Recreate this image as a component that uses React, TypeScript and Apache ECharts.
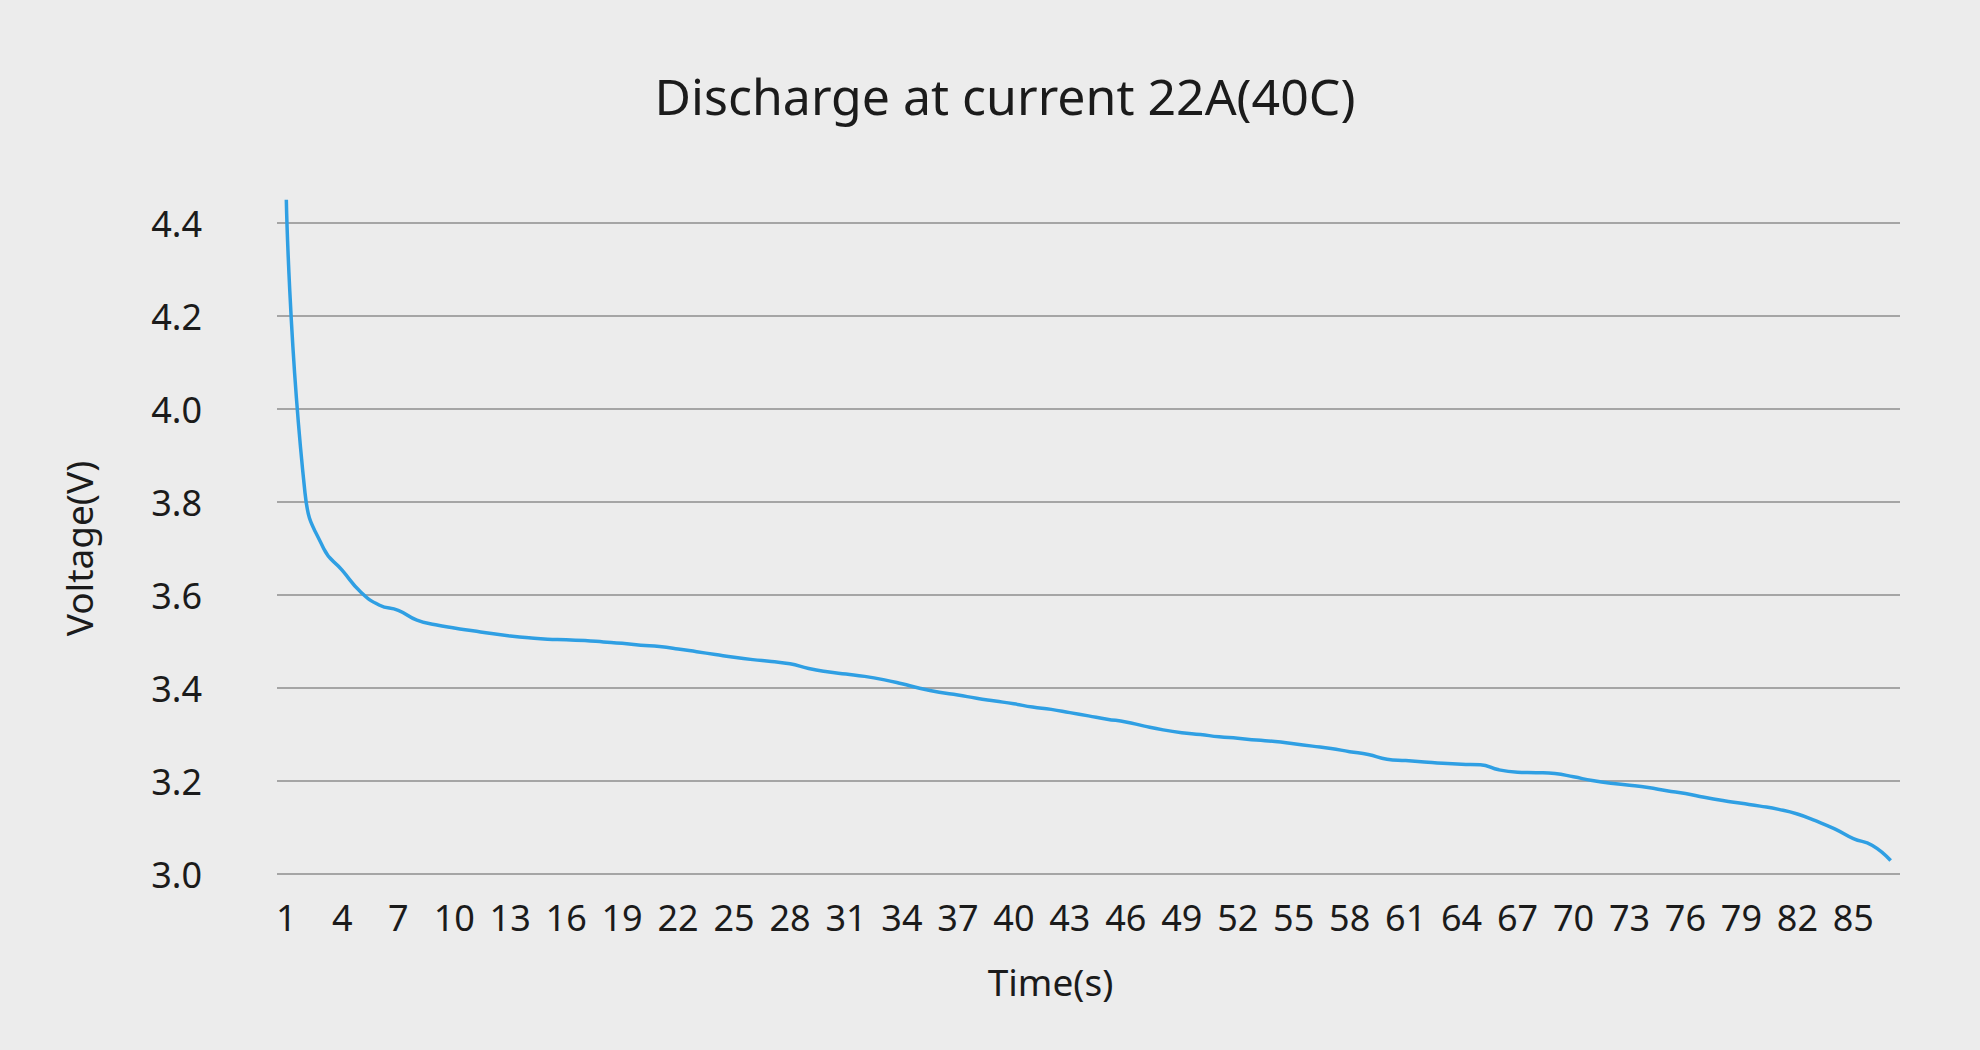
import React, { useEffect, useRef } from 'react';
import * as echarts from 'echarts';

// Time axis, one category per second
const timeSeconds: string[] = Array.from({ length: 87 }, (_, i) => String(i + 1));

// Cell voltage, one value per second
const voltage: number[] = [
    4.45, 3.82, 3.7, 3.653, 3.606, 3.578, 3.567, 3.546, 3.536, 3.529,
    3.523, 3.517, 3.512, 3.508, 3.505, 3.504, 3.502, 3.499, 3.496, 3.492,
    3.489, 3.484, 3.478, 3.472, 3.466, 3.461, 3.457, 3.452, 3.442, 3.435,
    3.43, 3.425, 3.418, 3.409, 3.399, 3.391, 3.385, 3.378, 3.372, 3.366,
    3.359, 3.354, 3.347, 3.34, 3.333, 3.327, 3.318, 3.31, 3.304, 3.3,
    3.295, 3.292, 3.288, 3.285, 3.28, 3.275, 3.27, 3.263, 3.257, 3.247,
    3.244, 3.241, 3.238, 3.236, 3.235, 3.224, 3.219, 3.218, 3.216, 3.209,
    3.201, 3.195, 3.191, 3.186, 3.179, 3.173, 3.165, 3.158, 3.152, 3.146,
    3.139, 3.129, 3.114, 3.097, 3.076, 3.062, 3.029
];

const FONT = '"Noto Sans", sans-serif';
const TEXT = '#1b1b1b';

const DischargeChart: React.FC = () => {
    const chartRef = useRef<HTMLDivElement>(null);

    useEffect(() => {
        if (!chartRef.current) return;

        const chart = echarts.init(chartRef.current, undefined, { renderer: 'svg' });

        chart.setOption({
            animation: false,
            backgroundColor: '#ececec',
            textStyle: { fontFamily: FONT },
            title: {
                text: 'Discharge at current 22A(40C)',
                left: 1000,
                top: 66,
                textAlign: 'center',
                textStyle: {
                    fontFamily: FONT,
                    fontSize: 50,
                    fontWeight: 'normal',
                    color: TEXT
                }
            },
            grid: {
                left: 277,
                right: 80,
                top: 223,
                bottom: 176,
                containLabel: false,
                outerBoundsMode: 'none'
            },
            xAxis: {
                type: 'category',
                data: timeSeconds,
                name: 'Time(s)',
                nameLocation: 'middle',
                nameGap: 89,
                nameTextStyle: {
                    fontFamily: FONT,
                    fontSize: 37,
                    color: TEXT,
                    padding: [0, 76, 0, 0]
                },
                axisLine: { show: false },
                axisTick: { show: false },
                axisLabel: {
                    interval: 2,
                    margin: 25,
                    fontSize: 36,
                    color: TEXT,
                    fontFamily: FONT
                }
            },
            yAxis: {
                type: 'value',
                min: 3,
                max: 4.4,
                interval: 0.2,
                name: 'Voltage(V)',
                nameLocation: 'middle',
                nameGap: 180,
                nameRotate: 90,
                nameTextStyle: {
                    fontFamily: FONT,
                    fontSize: 37,
                    color: TEXT
                },
                axisLine: { show: false },
                axisTick: { show: false },
                axisLabel: {
                    margin: 75,
                    fontSize: 36,
                    color: TEXT,
                    fontFamily: FONT,
                    formatter: (v: number) => v.toFixed(1)
                },
                splitLine: {
                    lineStyle: { color: '#8e8e8e', width: 1.5 }
                }
            },
            series: [
                {
                    name: 'Voltage',
                    type: 'line',
                    data: voltage,
                    smooth: 0.5,
                    showSymbol: false,
                    clip: false,
                    lineStyle: { color: '#2f9fe3', width: 3.5 }
                }
            ]
        } as any);

        const handleResize = () => {
            chart.resize();
        };

        window.addEventListener('resize', handleResize);

        return () => {
            chart.dispose();
            window.removeEventListener('resize', handleResize);
        };
    }, []);

    return (
        <div
            ref={chartRef}
            style={{ position: 'fixed', left: 0, top: 0, width: 1980, height: 1050 }}
        />
    );
};

export default function App() {
    return <DischargeChart />;
}
